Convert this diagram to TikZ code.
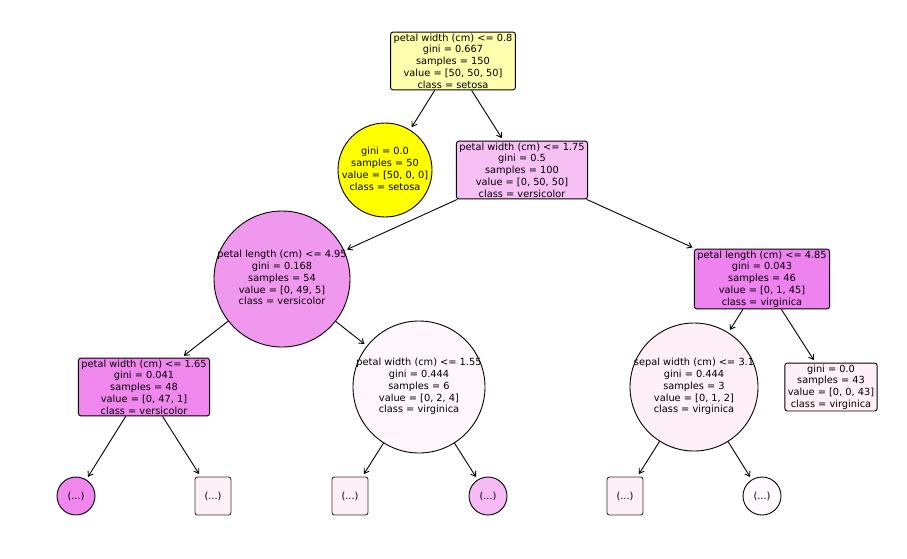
\documentclass[tikz,border=0pt]{standalone}
\usepackage{fontspec}
\setmainfont{DejaVu Sans}
\usepackage{tikz}
\usepackage{xcolor}
\usetikzlibrary{arrows.meta, shapes.geometric}
\definecolor{rootcol}{HTML}{FFFFAD}
\definecolor{setosacol}{HTML}{FFFF00}
\definecolor{pinkcol}{HTML}{F7C0F5}
\definecolor{mauvecol}{HTML}{F098EE}
\definecolor{violetcol}{HTML}{EE82EE}
\definecolor{versicol}{HTML}{EF87ED}
\definecolor{palecol}{HTML}{FEF6FA}
\definecolor{blushcol}{HTML}{FEF0F6}
\definecolor{leafpink}{HTML}{F6BBF5}
\definecolor{leafwhite}{HTML}{FEFAFD}
\tikzstyle{split} = [rectangle, rounded corners=2.5pt,
inner xsep=3pt,
inner ysep=1.5pt,
align=center,
draw=black]
\tikzstyle{ball} = [circle,
inner sep=0pt,
draw=black]
\tikzstyle{stub} = [rectangle, rounded corners=2.5pt,
minimum width=36pt,
minimum height=38pt,
draw=black!80]
\tikzstyle{arrow} = [->, >={Straight Barb[length=4.5pt, width=6pt]}, shorten >=3pt]
\newcommand{\circtext}[1]{\makebox[0pt]{\begin{tabular}{@{}c@{}}#1\end{tabular}}}
\begin{document}
\begin{tikzpicture}[x=1pt, y=-1pt, line width=0.9pt, font=\fontsize{9.8}{11.8}\selectfont]
        \useasboundingbox (0,0) rectangle (907,558);

        % --- Nodos ---
        \node (root) [split, fill=rootcol] at (453,61) {petal width (cm) <= 0.8\\ gini = 0.667\\ samples = 150\\ value = [50, 50, 50]\\ class = setosa};

        \node (setosa) [ball, fill=setosacol, minimum size=94pt] at (385,170) {\circtext{gini = 0.0\\ samples = 50\\ value = [50, 0, 0]\\ class = setosa}};
        \node (pw175) [split, fill=pinkcol] at (522,170) {petal width (cm) <= 1.75\\ gini = 0.5\\ samples = 100\\ value = [0, 50, 50]\\ class = versicolor};

        \node (pl495) [ball, fill=mauvecol, minimum size=136pt] at (282,279) {\circtext{petal length (cm) <= 4.95\\ gini = 0.168\\ samples = 54\\ value = [0, 49, 5]\\ class = versicolor}};
        \node (pl485) [split, fill=violetcol] at (762,279) {petal length (cm) <= 4.85\\ gini = 0.043\\ samples = 46\\ value = [0, 1, 45]\\ class = virginica};

        \node (pw165) [split, fill=versicol] at (144,387) {petal width (cm) <= 1.65\\ gini = 0.041\\ samples = 48\\ value = [0, 47, 1]\\ class = versicolor};
        \node (pw155) [ball, fill=palecol, minimum size=132pt] at (419,387) {\circtext{petal width (cm) <= 1.55\\ gini = 0.444\\ samples = 6\\ value = [0, 2, 4]\\ class = virginica}};
        \node (sw31) [ball, fill=blushcol, minimum size=128pt] at (694,387) {\circtext{sepal width (cm) <= 3.1\\ gini = 0.444\\ samples = 3\\ value = [0, 1, 2]\\ class = virginica}};
        \node (leaf43) [split, fill=blushcol] at (831,387) {gini = 0.0\\ samples = 43\\ value = [0, 0, 43]\\ class = virginica};

        \node (dots1) [ball, fill=versicol, minimum size=38pt] at (76,496) {(...)};
        \node (dots2) [stub, fill=blushcol] at (213,496) {(...)};
        \node (dots3) [stub, fill=blushcol] at (350,496) {(...)};
        \node (dots4) [ball, fill=leafpink, minimum size=38pt] at (488,496) {(...)};
        \node (dots5) [stub, fill=blushcol] at (625,496) {(...)};
        \node (dots6) [ball, fill=leafwhite, minimum size=38pt] at (762,496) {(...)};

        % --- Conexiones ---
        \draw [arrow] (root) -- (setosa);
        \draw [arrow] (root) -- (pw175);
        \draw [arrow] (pw175) -- (pl495);
        \draw [arrow] (pw175) -- (pl485);
        \draw [arrow] (pl495) -- (pw165);
        \draw [arrow] (pl495) -- (pw155);
        \draw [arrow] (pl485) -- (sw31);
        \draw [arrow] (pl485) -- (leaf43);

        % Ramas recortadas
        \draw [arrow] (pw165) -- (dots1);
        \draw [arrow] (pw165) -- (dots2);
        \draw [arrow] (pw155) -- (dots3);
        \draw [arrow] (pw155) -- (dots4);
        \draw [arrow] (sw31) -- (dots5);
        \draw [arrow] (sw31) -- (dots6);

    \end{tikzpicture}
\end{document}
